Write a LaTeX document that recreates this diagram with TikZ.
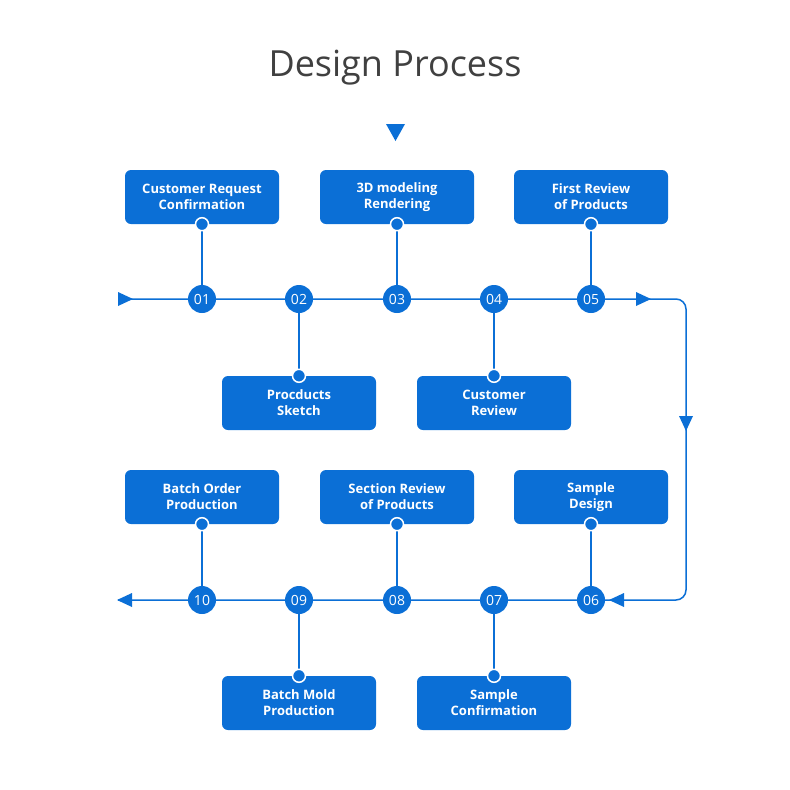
\documentclass[tikz,border=0pt]{standalone}
\usepackage{fontspec}
\setmainfont{Open Sans}
\begin{document}
\begin{tikzpicture}[x=1pt,y=-1pt,
  blue/.style={},
  box/.style={rounded corners=6pt,fill=bl,minimum width=154pt,minimum height=54pt,align=center,text=white,font=\fontsize{13}{16}\selectfont\bfseries},
  num/.style={circle,fill=bl,minimum size=28pt,inner sep=0pt,text=white,font=\fontsize{14}{16}\selectfont},
  dot/.style={circle,fill=bl,draw=white,line width=1.5pt,minimum size=13pt,inner sep=0pt},
  ln/.style={draw=bl,line width=1.5pt},
  tri/.style={fill=bl}]
\definecolor{bl}{HTML}{0B6FD6}
\useasboundingbox (0,0) rectangle (790,790);
\node[font=\fontsize{36}{40}\selectfont,text=black!75] (title) at (395,68) {Design Process};
\fill[tri] (386,124) -- (405,124) -- (395.5,141) -- cycle;
% circles
\foreach \n/\x/\y in {01/202/299,02/299/299,03/397/299,04/494/299,05/591/299,
                      06/591/600,07/494/600,08/397/600,09/299/600,10/202/600}
  \coordinate (c\n) at (\x,\y);
\coordinate (s) at (120,299);
\coordinate (e) at (650,299);
\coordinate (k) at (686,299);
\coordinate (k2) at (686,600);
\coordinate (f) at (118,600);
\draw[ln,rounded corners=10pt] (s) -- (k) -- (k2) -- (f);
% boxes
\node[box] (b1) at (202,197) {Customer Request\\Confirmation};
\node[box] (b3) at (397,197) {3D modeling\\Rendering};
\node[box] (b5) at (591,197) {First Review\\of Products};
\node[box] (b2) at (299,403) {Procducts\\Sketch};
\node[box] (b4) at (494,403) {Customer\\Review};
\node[box] (b10) at (202,497) {Batch Order\\Production};
\node[box] (b8) at (397,497) {Section Review\\of Products};
\node[box] (b6) at (591,497) {Sample\\Design};
\node[box] (b9) at (299,703) {Batch Mold\\Production};
\node[box] (b7) at (494,703) {Sample\\Confirmation};
\foreach \n/\s in {01/south,03/south,05/south,10/south,08/south,06/south,02/north,04/north,09/north,07/north}{
  \pgfmathtruncatemacro\i{\n}
  \draw[ln] (b\i.\s) -- (c\n);
  \node[dot] at (b\i.\s) {};
}
\foreach \n in {01,02,03,04,05,06,07,08,09,10}
  \node[num] (n\n) at (c\n) {\n};
% arrowheads
\fill[tri] (118,292) -- (133,299) -- (118,306) -- cycle;
\fill[tri] (636,292) -- (651,299) -- (636,306) -- cycle;
\fill[tri] (679,416) -- (693,416) -- (686,431) -- cycle;
\fill[tri] (624,593) -- (609,600) -- (624,607) -- cycle;
\fill[tri] (132,593) -- (117,600) -- (132,607) -- cycle;
\end{tikzpicture}
\end{document}
